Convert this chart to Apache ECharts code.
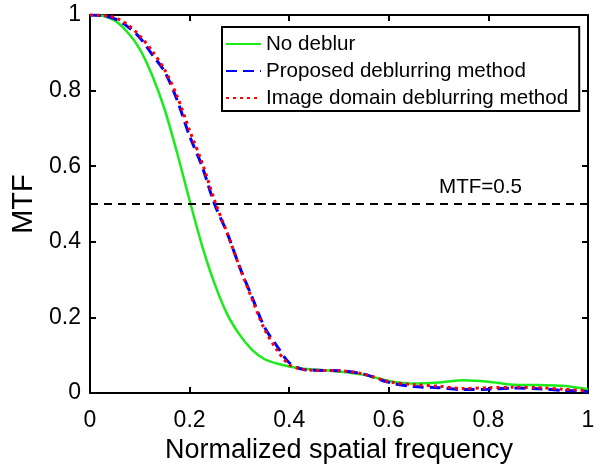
<!DOCTYPE html>
<html>
<head>
<meta charset="utf-8">
<script src="https://cdn.jsdelivr.net/npm/echarts@6/dist/echarts.min.js"></script>
<style>
  html, body { margin: 0; padding: 0; background: #fff; }
  #chart { width: 598px; height: 464px; }
</style>
</head>
<body>
<div id="chart"></div>
<script>
// frequency samples
var freq = [0, 0.025, 0.05, 0.075, 0.1, 0.125, 0.15, 0.175, 0.2, 0.225, 0.25, 0.275, 0.3, 0.325, 0.35, 0.375, 0.4, 0.425, 0.45, 0.5, 0.55, 0.6, 0.65, 0.7, 0.75, 0.8, 0.85, 0.9, 0.95, 1.0];

// MTF values
var noDeblur = [1.0, 0.998, 0.985, 0.955, 0.91, 0.84, 0.75, 0.635, 0.51, 0.39, 0.29, 0.21, 0.155, 0.115, 0.09, 0.078, 0.07, 0.065, 0.062, 0.057, 0.048, 0.032, 0.025, 0.028, 0.034, 0.03, 0.022, 0.021, 0.019, 0.01];
var proposed = [1.0, 0.998, 0.99, 0.97, 0.94, 0.895, 0.85, 0.775, 0.68, 0.6, 0.5, 0.425, 0.335, 0.255, 0.175, 0.125, 0.08, 0.063, 0.06, 0.059, 0.05, 0.028, 0.017, 0.014, 0.009, 0.01, 0.013, 0.011, 0.007, 0.004];
var imageDomain = [1.0, 0.999, 0.993, 0.975, 0.945, 0.905, 0.855, 0.785, 0.695, 0.61, 0.51, 0.425, 0.335, 0.25, 0.17, 0.115, 0.075, 0.063, 0.06, 0.059, 0.05, 0.03, 0.022, 0.018, 0.012, 0.014, 0.015, 0.014, 0.01, 0.006];

var seriesNames = ['No deblur', 'Proposed deblurring method', 'Image domain deblurring method'];
var refLevel = 0.5;

function pairs(ys) {
  return freq.map(function (x, i) { return [x, ys[i]]; });
}

var font = 'Liberation Sans, Arial, Helvetica, sans-serif';
var chart = echarts.init(document.getElementById('chart'), null, { renderer: 'canvas' });

var axisCommon = {
  min: 0, max: 1, interval: 0.2,
  axisLine: { show: true, onZero: false, lineStyle: { color: '#000', width: 2 } },
  axisTick: { show: true, inside: true, length: 6, lineStyle: { color: '#000', width: 2 } },
  splitLine: { show: false }
};

var option = {
  animation: false,
  backgroundColor: '#fff',
  grid: { left: 90, right: 10, top: 15, bottom: 71, containLabel: false, outerBoundsMode: 'none' },
  legend: {
    orient: 'vertical',
    left: 222, top: 27,
    data: seriesNames,
    backgroundColor: '#fff',
    borderColor: '#000', borderWidth: 2, borderRadius: 0,
    padding: [6, 11, 2, 3],
    itemWidth: 35, itemHeight: 14, itemGap: 5, itemTextGap: 5,
    itemStyle: { opacity: 0 },
    textStyle: { fontFamily: font, fontSize: 20.6, color: '#000', lineHeight: 22 }
  },
  xAxis: [
    echarts.util.merge({
      type: 'value', position: 'bottom',
      name: 'Normalized spatial frequency', nameLocation: 'middle', nameGap: 44,
      nameTextStyle: { fontFamily: font, fontSize: 27, color: '#000' },
      axisLabel: { fontFamily: font, fontSize: 23, color: '#000', margin: 16 }
    }, axisCommon, true),
    echarts.util.merge({
      type: 'value', position: 'top', axisLabel: { show: false }
    }, axisCommon, true)
  ],
  yAxis: [
    echarts.util.merge({
      type: 'value', position: 'left',
      name: 'MTF', nameLocation: 'middle', nameGap: 52, nameRotate: 90,
      nameTextStyle: { fontFamily: font, fontSize: 29, color: '#000' },
      axisLabel: { fontFamily: font, fontSize: 23, color: '#000', margin: 9 }
    }, axisCommon, true),
    echarts.util.merge({
      type: 'value', position: 'right', axisLabel: { show: false }
    }, axisCommon, true)
  ],
  series: [
    {
      name: seriesNames[0], type: 'line', symbol: 'none', smooth: 0.3,
      data: pairs(noDeblur),
      lineStyle: { color: '#1aeb1a', width: 2.5 },
      itemStyle: { color: '#1aeb1a' },
      z: 2,
      markLine: {
        silent: true, symbol: 'none',
        lineStyle: { color: '#000', type: [8, 6], width: 2 },
        label: {
          show: true, position: 'insideEndTop', distance: [66, 6],
          formatter: 'MTF=0.5', fontFamily: font, fontSize: 20.6, color: '#000'
        },
        data: [{ yAxis: refLevel }]
      }
    },
    {
      name: seriesNames[1], type: 'line', symbol: 'none', smooth: 0.3,
      data: pairs(proposed),
      lineStyle: { color: '#0000ff', width: 3, type: [11, 6] },
      itemStyle: { color: '#0000ff' },
      z: 3
    },
    {
      name: seriesNames[2], type: 'line', symbol: 'none', smooth: 0.3,
      data: pairs(imageDomain),
      lineStyle: { color: '#ff0000', width: 3, type: [3, 4] },
      itemStyle: { color: '#ff0000' },
      z: 4
    }
  ]
};

chart.setOption(option);
</script>
</body>
</html>
